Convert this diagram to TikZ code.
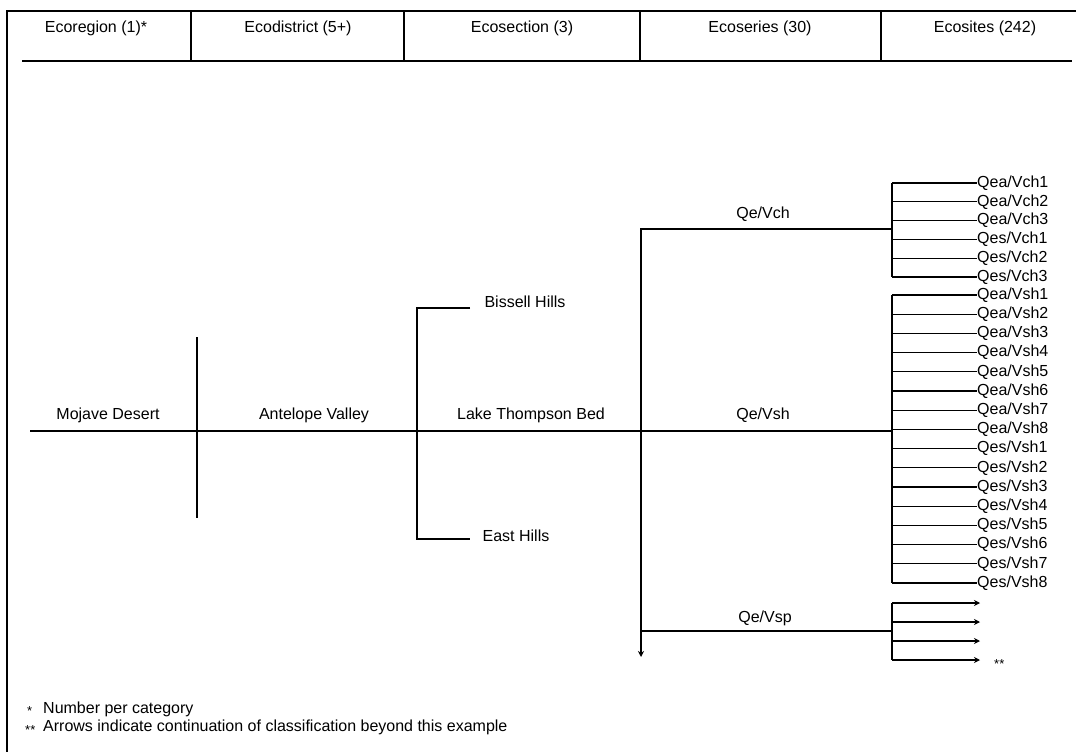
\documentclass[tikz,border=0pt]{standalone}
\usepackage{fontspec}
\setmainfont{Liberation Sans}
\usetikzlibrary{arrows.meta}
\begin{document}
\begin{tikzpicture}[x=1pt,y=-1pt,
  ln/.style={line width=1.5pt},
  thin/.style={line width=1.2pt},
  lbl/.style={inner sep=0pt, font=\fontsize{16}{18}\selectfont},
  base/.style={lbl, anchor=base},
  site/.style={lbl, anchor=west, font=\fontsize{16}{16}\selectfont},
  arr/.style={thin, -{Stealth[length=6pt,width=6pt]}}]
\useasboundingbox (0,0) rectangle (1076,752);
% frame and header
\coordinate (fbl) at (7,752);
\coordinate (ftl) at (7,11);
\coordinate (ftr) at (1076,11);
\coordinate (hl) at (22,61);
\coordinate (hr) at (1072,61);
\draw[ln] (fbl) -- (ftl) -- (ftr);
\draw[ln] (hl) -- (hr);
\foreach \x [count=\i] in {191,404,640,881} {
  \coordinate (dt\i) at (\x,11);
  \coordinate (db\i) at (\x,61);
  \draw[ln] (dt\i) -- (db\i);
}
\node[lbl] (h1) at (96,28) {Ecoregion (1)*};
\node[lbl] (h2) at (298,28) {Ecodistrict (5+)};
\node[lbl] (h3) at (522,28) {Ecosection (3)};
\node[lbl] (h4) at (760,28) {Ecoseries (30)};
\node[lbl] (h5) at (985,28) {Ecosites (242)};

% main line
\coordinate (m0) at (30,431);
\coordinate (mD) at (892,431);
\draw[ln] (m0) -- (mD);

% ecoregion divider
\coordinate (rt) at (197,337);
\coordinate (rb) at (197,518);
\draw[ln] (rt) -- (rb);

% ecosection bracket
\coordinate (bt) at (417,308);
\coordinate (bte) at (470,308);
\coordinate (bb) at (417,539);
\coordinate (bbe) at (470,539);
\draw[ln] (bte) -- (bt) -- (bb) -- (bbe);

% ecoseries
\coordinate (st) at (641,229);
\coordinate (ste) at (892,229);
\coordinate (sm) at (641,640);
\coordinate (sb) at (641,657);
\coordinate (sp) at (641,631);
\coordinate (spe) at (892,631);
\draw[ln] (ste) -- (st) -- (sm);
\draw[arr] (sm) -- (sb);
\draw[ln] (sp) -- (spe);

% labels on main structure
\node[base] (mojave) at (108,419) {Mojave Desert};
\node[base] (antelope) at (314,419) {Antelope Valley};
\node[base] (lake) at (531,419) {Lake Thompson Bed};
\node[base] (bissell) at (525,307) {Bissell Hills};
\node[base] (east) at (516,541) {East Hills};
\node[base] (vch) at (763,218) {Qe/Vch};
\node[base] (vsh) at (763,419) {Qe/Vsh};
\node[base] (vsp) at (765,622) {Qe/Vsp};

% ecosites: Vch group
\coordinate (cht) at (892,183);
\coordinate (chb) at (892,277);
\draw[ln] (cht) -- (chb);
\foreach \t [count=\i from 0] in {Qea/Vch1,Qea/Vch2,Qea/Vch3,Qes/Vch1,Qes/Vch2,Qes/Vch3} {
  \coordinate (cs\i) at (892,183+18.8*\i);
  \node[site] (c\i) at (977,183+18.8*\i) {\t};
  \draw[thin] (cs\i) -- (c\i.west);
}
% ecosites: Vsh group
\coordinate (sht) at (892,295);
\coordinate (shb) at (892,583);
\draw[ln] (sht) -- (shb);
\foreach \t [count=\i from 0] in {Qea/Vsh1,Qea/Vsh2,Qea/Vsh3,Qea/Vsh4,Qea/Vsh5,Qea/Vsh6,Qea/Vsh7,Qea/Vsh8,Qes/Vsh1,Qes/Vsh2,Qes/Vsh3,Qes/Vsh4,Qes/Vsh5,Qes/Vsh6,Qes/Vsh7,Qes/Vsh8} {
  \coordinate (ss\i) at (892,295+19.2*\i);
  \node[site] (s\i) at (977,295+19.2*\i) {\t};
  \draw[thin] (ss\i) -- (s\i.west);
}
% ecosites: Vsp group (continuation arrows)
\coordinate (pt) at (892,603);
\coordinate (pb) at (892,660);
\draw[ln] (pt) -- (pb);
\foreach \i in {0,1,2,3} {
  \coordinate (ps\i) at (892,603+19*\i);
  \coordinate (pe\i) at (980,603+19*\i);
  \draw[arr] (ps\i) -- (pe\i);
}
\node[lbl, anchor=west, font=\fontsize{13}{13}\selectfont] (stars) at (994,664) {**};

% footnotes
\node[lbl, anchor=west, font=\fontsize{13}{13}\selectfont] (fn1s) at (27,711) {*};
\node[lbl, anchor=west] (fn1) at (43,709) {Number per category};
\node[lbl, anchor=west, font=\fontsize{13}{13}\selectfont] (fn2s) at (25,730) {**};
\node[lbl, anchor=west] (fn2) at (43,727) {Arrows indicate continuation of classification beyond this example};
\end{tikzpicture}
\end{document}
